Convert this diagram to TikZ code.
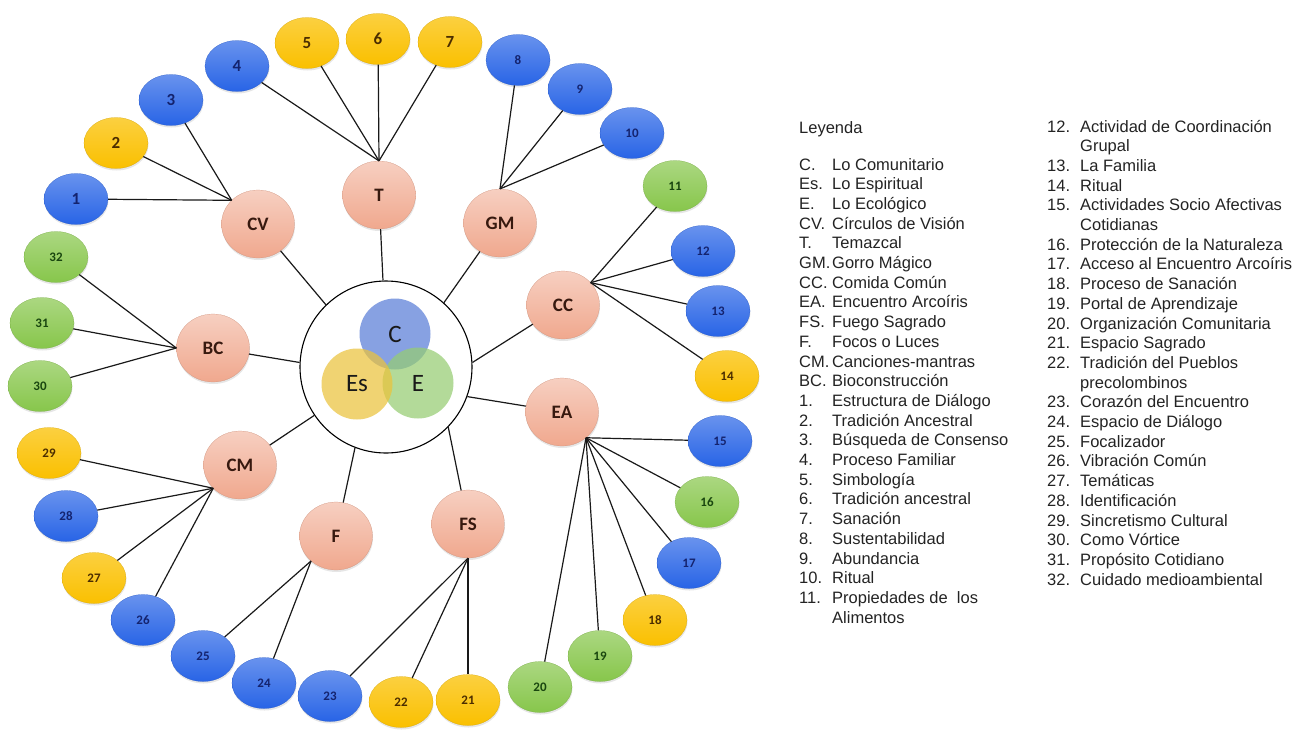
\documentclass[tikz,border=0pt]{standalone}
\usepackage{fontspec}
\setmainfont{Liberation Sans}
\newfontfamily\calfont{Carlito}
\usepackage{tikz}
\usetikzlibrary{
  shapes.geometric,
  shadows
}
\definecolor{leafblue}{RGB}{40,100,230}
\definecolor{leafyellow}{RGB}{250,192,0}
\definecolor{leafgreen}{RGB}{135,198,75}
\definecolor{midsalmon}{RGB}{240,168,142}
\definecolor{vennblue}{RGB}{90,125,215}
\definecolor{vennyellow}{RGB}{235,195,60}
\definecolor{venngreen}{RGB}{150,205,115}
\definecolor{txtblue}{RGB}{20,35,110}
\definecolor{txtbrown}{RGB}{75,45,0}
\definecolor{txtgreen}{RGB}{25,70,15}
\definecolor{txtdark}{RGB}{55,25,15}
\definecolor{leggray}{RGB}{35,35,35}

\begin{document}
\begin{tikzpicture}[x=1pt, y=-1pt,
  leaf/.style={ellipse, minimum width=64pt, minimum height=51pt, inner sep=0pt, very thin,
    font=\calfont\bfseries\fontsize{13}{13}\selectfont,
    drop shadow={opacity=0.2, shadow xshift=0.5pt, shadow yshift=-2pt}},
  bignum/.style={font=\calfont\bfseries\fontsize{17}{17}\selectfont},
  blueleaf/.style={leaf, top color=leafblue!70!white, bottom color=leafblue, draw=leafblue!85!black, text=txtblue},
  yellowleaf/.style={leaf, top color=leafyellow!75!white, bottom color=leafyellow, draw=leafyellow!85!black, text=txtbrown},
  greenleaf/.style={leaf, top color=leafgreen!70!white, bottom color=leafgreen, draw=leafgreen!85!black, text=txtgreen},
  midnode/.style={ellipse, minimum width=73pt, minimum height=68pt, inner sep=0pt, very thin,
    top color=midsalmon!55!white, bottom color=midsalmon, draw=midsalmon!85!black,
    font=\calfont\bfseries\fontsize{19}{19}\selectfont, text=txtdark,
    drop shadow={opacity=0.2, shadow xshift=0.5pt, shadow yshift=-2pt}},
  hubring/.style={circle, draw=black, line width=1.1pt, fill=white, minimum size=172pt, inner sep=0pt},
  venn/.style={circle, minimum size=71pt, inner sep=0pt, fill opacity=0.72, text opacity=1,
    font=\calfont\fontsize{25}{25}\selectfont, text=black!90},
  spoke/.style={draw=black!90, line width=1.2pt},
  legend/.style={anchor=base west, inner sep=0pt, text=leggray, font=\fontsize{16.5}{19.7}\selectfont}
]
  \useasboundingbox (0,0) rectangle (1293,729);

  \node[hubring] (hub) at (386,367) {};
  \node[venn, fill=vennblue] (vC) at (395,334) {C};
  \node[venn, fill=venngreen] (vE) at (418,383) {E};
  \node[venn, fill=vennyellow] (vEs) at (357,384) {Es};

  \node[midnode] (CV) at (258,224) {CV};
  \node[midnode] (T) at (379,195) {T};
  \node[midnode] (GM) at (500,223) {GM};
  \node[midnode] (CC) at (563,305) {CC};
  \node[midnode] (EA) at (562,412) {EA};
  \node[midnode] (FS) at (468,524) {FS};
  \node[midnode] (F) at (336,536) {F};
  \node[midnode] (CM) at (240,465) {CM};
  \node[midnode] (BC) at (213,348) {BC};

  \node[blueleaf, bignum] (n1) at (76,199) {1};
  \node[yellowleaf, bignum] (n2) at (116,143) {2};
  \node[blueleaf, bignum] (n3) at (171,100) {3};
  \node[blueleaf, bignum] (n4) at (237,66) {4};
  \node[yellowleaf, bignum] (n5) at (307,43) {5};
  \node[yellowleaf, bignum] (n6) at (378,39) {6};
  \node[yellowleaf, bignum] (n7) at (450,42) {7};
  \node[blueleaf] (n8) at (518,60) {8};
  \node[blueleaf] (n9) at (580,89) {9};
  \node[blueleaf] (n10) at (632,133) {10};
  \node[greenleaf] (n11) at (675,186) {11};
  \node[blueleaf] (n12) at (703,251) {12};
  \node[blueleaf] (n13) at (718,311) {13};
  \node[yellowleaf] (n14) at (727,376) {14};
  \node[blueleaf] (n15) at (720,441) {15};
  \node[greenleaf] (n16) at (707,502) {16};
  \node[blueleaf] (n17) at (689,563) {17};
  \node[yellowleaf] (n18) at (655,620) {18};
  \node[greenleaf] (n19) at (600,656) {19};
  \node[greenleaf] (n20) at (540,687) {20};
  \node[yellowleaf] (n21) at (468,700) {21};
  \node[yellowleaf] (n22) at (401,702) {22};
  \node[blueleaf] (n23) at (330,696) {23};
  \node[blueleaf] (n24) at (264,683) {24};
  \node[blueleaf] (n25) at (203,656) {25};
  \node[blueleaf] (n26) at (143,620) {26};
  \node[yellowleaf] (n27) at (94,578) {27};
  \node[blueleaf] (n28) at (66,516) {28};
  \node[yellowleaf] (n29) at (49,453) {29};
  \node[greenleaf] (n30) at (40,386) {30};
  \node[greenleaf] (n31) at (42,323) {31};
  \node[greenleaf] (n32) at (56,257) {32};

  \draw[spoke] (hub.134) -- (CV);
  \draw[spoke] (hub.92) -- (T);
  \draw[spoke] (hub.48) -- (GM);
  \draw[spoke] (hub.3) -- (CC);
  \draw[spoke] (hub.-20) -- (EA);
  \draw[spoke] (hub.-44) -- (FS);
  \draw[spoke] (hub.-111) -- (F);
  \draw[spoke] (hub.214) -- (CM);
  \draw[spoke] (hub.177) -- (BC);

  \draw[spoke] (CV.138) -- (n1);
  \draw[spoke] (CV.138) -- (n2);
  \draw[spoke] (CV.138) -- (n3);
  \draw[spoke] (T.north) -- (n4);
  \draw[spoke] (T.north) -- (n5);
  \draw[spoke] (T.north) -- (n6);
  \draw[spoke] (T.north) -- (n7);
  \draw[spoke] (GM.north) -- (n8);
  \draw[spoke] (GM.north) -- (n9);
  \draw[spoke] (GM.north) -- (n10);
  \draw[spoke] (CC.39) -- (n11);
  \draw[spoke] (CC.39) -- (n12);
  \draw[spoke] (CC.39) -- (n13);
  \draw[spoke] (CC.39) -- (n14);
  \draw[spoke] (EA.313) -- (n15);
  \draw[spoke] (EA.313) -- (n16);
  \draw[spoke] (EA.313) -- (n17);
  \draw[spoke] (EA.313) -- (n18);
  \draw[spoke] (EA.313) -- (n19);
  \draw[spoke] (EA.313) -- (n20);
  \draw[spoke] (FS.south) -- (n21);
  \draw[spoke] (FS.south) -- (n22);
  \draw[spoke] (FS.south) -- (n23);
  \draw[spoke] (F.225) -- (n24);
  \draw[spoke] (F.225) -- (n25);
  \draw[spoke] (CM.221) -- (n26);
  \draw[spoke] (CM.221) -- (n27);
  \draw[spoke] (CM.221) -- (n28);
  \draw[spoke] (CM.221) -- (n29);
  \draw[spoke] (BC.west) -- (n30);
  \draw[spoke] (BC.west) -- (n31);
  \draw[spoke] (BC.west) -- (n32);

  \node[legend] (legTitle) at (799,133) {Leyenda};
  \node[legend] (legA) at (799,170) {\begin{tabular}[t]{@{}p{33pt}@{}l@{}}
    C. & Lo Comunitario\\
    Es. & Lo Espiritual\\
    E. & Lo Ecológico\\
    CV. & Círculos de Visión\\
    T. & Temazcal\\
    GM. & Gorro Mágico\\
    CC. & Comida Común\\
    EA. & Encuentro Arcoíris\\
    FS. & Fuego Sagrado\\
    F. & Focos o Luces\\
    CM. & Canciones-mantras\\
    BC. & Bioconstrucción\\
    1. & Estructura de Diálogo\\
    2. & Tradición Ancestral\\
    3. & Búsqueda de Consenso\\
    4. & Proceso Familiar\\
    5. & Simbología\\
    6. & Tradición ancestral\\
    7. & Sanación\\
    8. & Sustentabilidad\\
    9. & Abundancia\\
    10. & Ritual\\
    11. & Propiedades de\ \ los\\
        & Alimentos
  \end{tabular}};
  \node[legend] (legB) at (1047,132) {\begin{tabular}[t]{@{}p{33pt}@{}l@{}}
    12. & Actividad de Coordinación\\
        & Grupal\\
    13. & La Familia\\
    14. & Ritual\\
    15. & Actividades Socio Afectivas\\
        & Cotidianas\\
    16. & Protección de la Naturaleza\\
    17. & Acceso al Encuentro Arcoíris\\
    18. & Proceso de Sanación\\
    19. & Portal de Aprendizaje\\
    20. & Organización Comunitaria\\
    21. & Espacio Sagrado\\
    22. & Tradición del Pueblos\\
        & precolombinos\\
    23. & Corazón del Encuentro\\
    24. & Espacio de Diálogo\\
    25. & Focalizador\\
    26. & Vibración Común\\
    27. & Temáticas\\
    28. & Identificación\\
    29. & Sincretismo Cultural\\
    30. & Como Vórtice\\
    31. & Propósito Cotidiano\\
    32. & Cuidado medioambiental
  \end{tabular}};
\end{tikzpicture}
\end{document}
